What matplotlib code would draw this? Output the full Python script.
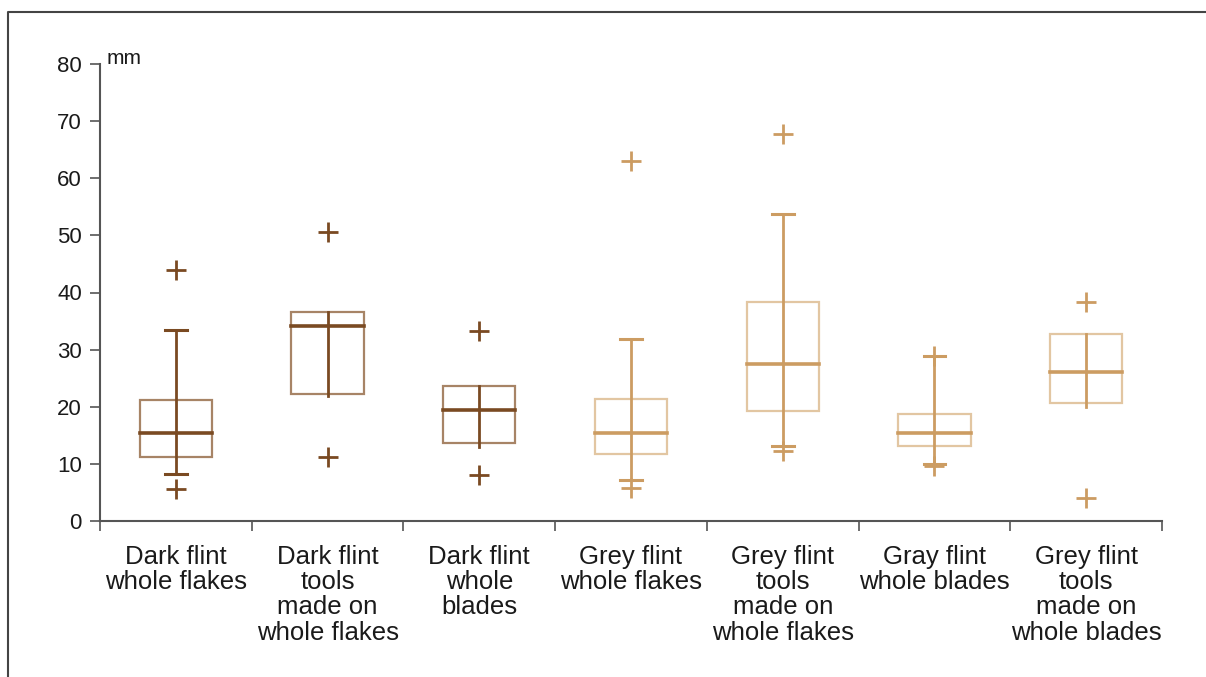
import numpy as np
import matplotlib.pyplot as plt
from matplotlib.patches import Rectangle
from matplotlib.lines import Line2D

plt.rcParams['font.family'] = ['Liberation Sans', 'DejaVu Sans']

# data (mm)
categories = ["Dark flint\nwhole flakes",
              "Dark flint\ntools\nmade on\nwhole flakes",
              "Dark flint\nwhole\nblades",
              "Grey flint\nwhole flakes",
              "Grey flint\ntools\nmade on\nwhole flakes",
              "Gray flint\nwhole blades",
              "Grey flint\ntools\nmade on\nwhole blades"]
q1 = [11.2, 22.2, 13.7, 11.7, 19.3, 13.2, 20.7]
median = [15.4, 34.1, 19.4, 15.4, 27.5, 15.4, 26.0]
q3 = [21.2, 36.5, 23.7, 21.3, 38.4, 18.7, 32.8]
whisk_lo = [8.2, 21.8, 13.0, 7.1, 13.1, 10.0, 20.0]
whisk_hi = [33.4, 36.5, 23.7, 31.8, 53.8, 28.8, 32.8]
has_caps = [True, False, False, True, True, True, False]
outliers = [[44.0, 5.6], [50.6, 11.2], [33.3, 8.1], [63.1, 5.7],
            [67.8, 12.2], [28.8, 9.6], [38.4, 4.0]]
dark = [True, True, True, False, False, False, False]

DARK = "#7a4a22"
DARK_BOX = "#a78466"
LIGHT = "#cc9c62"
LIGHT_BOX = "#e2c6a2"

fig = plt.figure(figsize=(12.06, 6.77), dpi=100)
ax = fig.add_axes([100/1206, 1-521/677, 1062/1206, 457/677])

hw = 0.238
cw = 0.072
for i in range(len(categories)):
    x = i + 0.5
    c = DARK if dark[i] else LIGHT
    cb = DARK_BOX if dark[i] else LIGHT_BOX
    ax.add_patch(Rectangle((x-hw, q1[i]), 2*hw, q3[i]-q1[i], fill=False,
                           edgecolor=cb, lw=1.6, zorder=2))
    ax.plot([x, x], [whisk_lo[i], whisk_hi[i]], color=c, lw=2.0, zorder=3)
    ax.plot([x-hw, x+hw], [median[i], median[i]], color=c, lw=2.6, zorder=3)
    if has_caps[i]:
        for v in (whisk_lo[i], whisk_hi[i]):
            ax.plot([x-cw, x+cw], [v, v], color=c, lw=2.2, zorder=3)
    ax.plot([x]*len(outliers[i]), outliers[i], ls='none', marker='+',
            ms=14.5, mew=2.0, color=c, zorder=3)

ax.set_xlim(0, 7)
ax.set_ylim(0, 80)
ax.set_yticks(np.arange(0, 81, 10))
ax.set_xticks(np.arange(0, 8))
ax.set_xticklabels([])
ax.set_xticks(np.arange(0.5, 7), minor=True)
ax.set_xticklabels(categories, minor=True, fontsize=18.5, linespacing=1.07,
                   va='top', ha='center', color='#1a1a1a')
ax.tick_params(axis='x', which='minor', length=0, pad=17)
ax.tick_params(axis='x', which='major', length=7, width=1.2, color='#555555')
ax.tick_params(axis='y', length=7, width=1.2, color='#555555',
               labelsize=16, pad=6, labelcolor='#1a1a1a')
for s in ('top', 'right'):
    ax.spines[s].set_visible(False)
for s in ('left', 'bottom'):
    ax.spines[s].set_color('#555555')
    ax.spines[s].set_linewidth(1.5)

ax.text(0.006, 1.0, "mm", transform=ax.transAxes, fontsize=15,
        ha='left', va='baseline', color='#1a1a1a')

# outer frame (left and top edges)
fig.add_artist(Line2D([8/1206, 8/1206, 1.0], [0.0, 1-12/677, 1-12/677],
                      transform=fig.transFigure, color='#444444', lw=1.5))

fig.savefig("out.png", dpi=100)
